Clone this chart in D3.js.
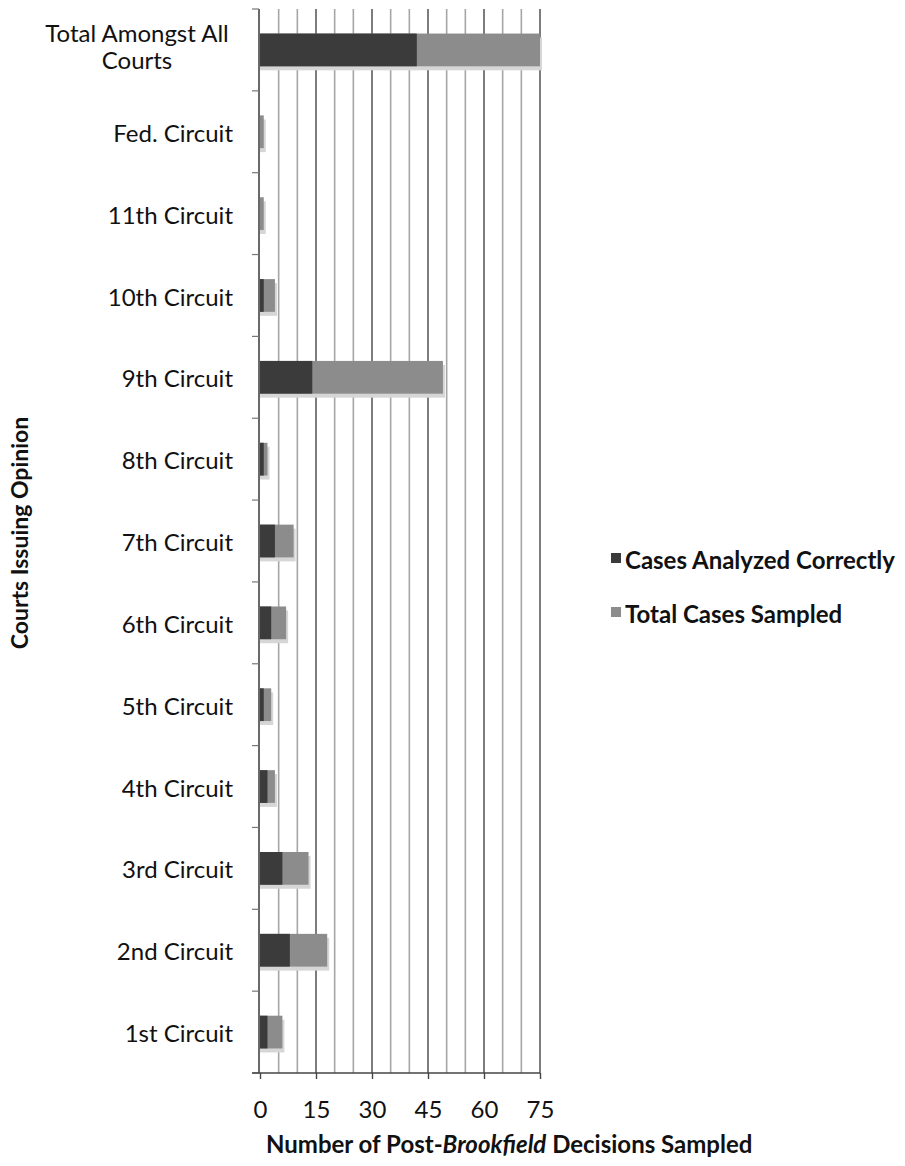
<!DOCTYPE html>
<html>
<head>
<meta charset="utf-8">
<script src="https://cdn.jsdelivr.net/npm/d3@7"></script>
<style>
  body { margin: 0; background: #fff; }
  svg { display: block; font-family: Lato, 'Open Sans', sans-serif; }
  .cat { font-size: 24px; fill: #111; }
  .tick-label { font-size: 24px; fill: #111; }
  .axis-title { font-size: 24px; font-weight: bold; fill: #111; }
  .y-title { font-size: 23px; font-weight: bold; fill: #111; }
  .legend-text { font-size: 24px; font-weight: bold; fill: #111; }
</style>
</head>
<body>
<svg width="905" height="1166"></svg>
<script>
'use strict';

// data (top row first)
const courts = ['Total Amongst All Courts', 'Fed. Circuit', '11th Circuit', '10th Circuit',
  '9th Circuit', '8th Circuit', '7th Circuit', '6th Circuit', '5th Circuit',
  '4th Circuit', '3rd Circuit', '2nd Circuit', '1st Circuit'];
const correct = [42, 0, 0, 1, 14, 1, 4, 3, 1, 2, 6, 8, 2];
const sampled = [75, 1, 1, 4, 49, 2, 9, 7, 3, 4, 13, 18, 6];
const xTicks = [0, 15, 30, 45, 60, 75];
const seriesNames = ['Cases Analyzed Correctly', 'Total Cases Sampled'];

(function (d3) {
  const svg = d3.select('svg');

  const darkFill = '#3b3b3b';
  const lightFill = '#8c8c8c';

  const data = courts.map((c, i) => ({ court: c, correct: correct[i], sampled: sampled[i] }));

  const x = d3.scaleLinear().domain([0, 75]).range([260, 540]);
  const y = d3.scaleBand().domain(courts).range([9, 1073])
    .paddingInner(0.6).paddingOuter(0.3);

  const top = 9, bottom = 1073;

  // vertical gridlines every 5
  const grid = d3.range(5, 80, 5);
  svg.append('g').selectAll('line').data(grid)
    .enter().append('line')
      .attr('x1', d => x(d)).attr('x2', d => x(d))
      .attr('y1', top).attr('y2', bottom)
      .attr('stroke', d => d % 15 === 0 ? '#5c5c5c' : '#a6a6a6')
      .attr('stroke-width', 1.6);

  // bar shadows
  svg.append('g').selectAll('rect').data(data)
    .enter().append('rect')
      .attr('x', x(0))
      .attr('y', d => y(d.court) + 4)
      .attr('width', d => x(d.sampled) - x(0) + 2)
      .attr('height', y.bandwidth())
      .attr('fill', '#d6d6d6');

  // total sampled (back)
  svg.append('g').selectAll('rect').data(data)
    .enter().append('rect')
      .attr('x', x(0))
      .attr('y', d => y(d.court))
      .attr('width', d => x(d.sampled) - x(0))
      .attr('height', y.bandwidth())
      .attr('fill', lightFill);

  // analyzed correctly (front)
  svg.append('g').selectAll('rect').data(data)
    .enter().append('rect')
      .attr('x', x(0))
      .attr('y', d => y(d.court))
      .attr('width', d => x(d.correct) - x(0))
      .attr('height', y.bandwidth())
      .attr('fill', darkFill);

  // y axis line + boundary ticks
  const step = y.step();
  const boundaries = courts.map(c => y(c) - step * y.paddingOuter()).concat([bottom]);
  svg.append('line')
    .attr('x1', 259).attr('x2', 259).attr('y1', top).attr('y2', bottom)
    .attr('stroke', '#444').attr('stroke-width', 1.6);
  svg.append('g').selectAll('line').data(boundaries)
    .enter().append('line')
      .attr('x1', 252).attr('x2', 259)
      .attr('y1', d => d).attr('y2', d => d)
      .attr('stroke', '#777').attr('stroke-width', 1.2);

  // category labels via axis
  const yAxisG = svg.append('g')
    .attr('transform', 'translate(259,0)')
    .call(d3.axisLeft(y).tickSize(0).tickPadding(26));
  yAxisG.attr('font-family', null).attr('font-size', null);
  yAxisG.select('.domain').remove();
  yAxisG.selectAll('text')
    .attr('class', 'cat')
    .attr('dy', '0.42em');
  yAxisG.selectAll('.tick').filter(d => d === courts[0]).select('text')
    .text(null)
    .attr('text-anchor', 'middle')
    .attr('x', -122)
    .attr('dy', null)
    .call(t => {
      t.append('tspan').attr('x', -122).attr('y', -8).text('Total Amongst All');
      t.append('tspan').attr('x', -122).attr('y', 19).text('Courts');
    });

  // x axis
  svg.append('line')
    .attr('x1', 252).attr('x2', x(75)).attr('y1', bottom).attr('y2', bottom)
    .attr('stroke', '#444').attr('stroke-width', 1.6);
  const xAxisG = svg.append('g')
    .attr('transform', `translate(0,${bottom})`)
    .call(d3.axisBottom(x).tickValues(xTicks).tickSize(6));
  xAxisG.attr('font-family', null).attr('font-size', null);
  xAxisG.select('.domain').remove();
  xAxisG.selectAll('line').attr('stroke', '#444').attr('stroke-width', 1.4);
  xAxisG.selectAll('text')
    .attr('class', 'tick-label')
    .attr('y', 45).attr('dy', null);

  // axis titles
  const xTitle = svg.append('text')
    .attr('class', 'axis-title')
    .attr('x', 266).attr('y', 1153)
    .attr('text-anchor', 'start');
  xTitle.append('tspan').text('Number of Post-');
  xTitle.append('tspan').attr('font-style', 'italic').text('Brookfield');
  xTitle.append('tspan').text(' Decisions Sampled');

  svg.append('text')
    .attr('class', 'y-title')
    .attr('transform', 'translate(28,533) rotate(-90)')
    .attr('text-anchor', 'middle')
    .text('Courts Issuing Opinion');

  // legend
  const legend = svg.append('g').selectAll('g').data(seriesNames)
    .enter().append('g')
      .attr('transform', (d, i) => `translate(611,${553 + i * 54})`);
  legend.append('rect')
    .attr('width', 10).attr('height', 10)
    .attr('fill', (d, i) => i === 0 ? darkFill : lightFill);
  legend.append('text')
    .attr('class', 'legend-text')
    .attr('x', 14).attr('y', 16)
    .text(d => d);
}(d3));
</script>
</body>
</html>
